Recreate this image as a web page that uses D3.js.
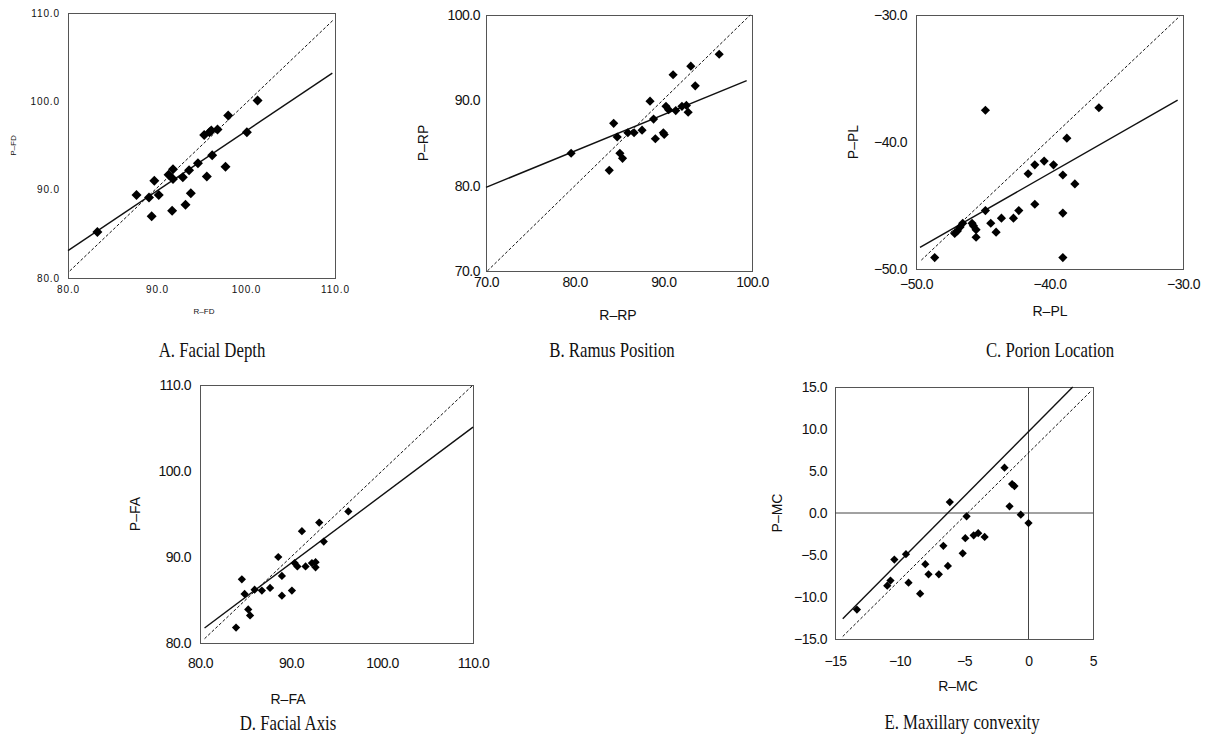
<!DOCTYPE html>
<html lang="en">
<head>
<meta charset="UTF-8">
<title>Regression plots</title>
<script src="https://cdn.jsdelivr.net/npm/d3@7"></script>
<style>
    body { margin: 0; background: #fff; }
</style>
</head>
<body>
<script type="text/javascript">
    // A. Facial Depth
    var fdR = [83.3, 87.7, 89.1, 89.7, 89.4, 90.2, 91.3, 91.8, 91.8, 91.7, 92.9, 93.2, 93.6, 93.8, 94.6, 95.6, 95.3, 95.9, 96.1, 96.2, 96.8, 98.0, 97.7, 100.1, 101.3];
    var fdP = [85.2, 89.4, 89.1, 91.0, 87.0, 89.4, 91.7, 92.3, 91.2, 87.6, 91.4, 88.3, 92.2, 89.6, 93.0, 91.5, 96.2, 96.5, 96.7, 93.9, 96.8, 98.4, 92.6, 96.5, 100.1];
    var fdFit = [[80, 83.1], [109.7, 103.2]];
    var fdRef = [[80.2, 80.8], [109.8, 109.2]];
    var fdTicks = [80, 90, 100, 110];
    var fdLabels = ["80.0", "90.0", "100.0", "110.0"];

    // B. Ramus Position
    var rpR = [79.6, 83.9, 84.4, 84.8, 85.1, 85.4, 86.0, 86.7, 87.6, 88.5, 88.9, 89.1, 90.0, 90.1, 90.3, 90.6, 91.1, 91.4, 92.1, 92.6, 92.8, 93.1, 93.6, 96.3];
    var rpP = [83.8, 81.8, 87.3, 85.7, 83.8, 83.2, 86.2, 86.2, 86.5, 89.9, 87.8, 85.5, 86.2, 86.0, 89.3, 88.9, 93.0, 88.8, 89.3, 89.4, 88.6, 94.0, 91.7, 95.4];
    var rpFit = [[70, 79.8], [99.4, 92.3]];
    var rpRef = [[70.15, 70], [99.8, 100]];
    var rpTicks = [70, 80, 90, 100];
    var rpLabels = ["70.0", "80.0", "90.0", "100.0"];

    // C. Porion Location
    var plR = [-48.6, -47.1, -46.9, -46.7, -46.5, -45.8, -45.7, -45.5, -45.5, -44.8, -44.8, -44.4, -44.0, -43.6, -42.7, -42.3, -41.6, -41.1, -41.1, -40.4, -39.7, -39.0, -39.0, -39.0, -38.7, -38.1, -36.3];
    var plP = [-49.1, -47.2, -47.0, -46.7, -46.4, -46.4, -46.6, -46.9, -47.5, -37.5, -45.4, -46.4, -47.1, -46.0, -46.0, -45.4, -42.5, -41.8, -44.9, -41.5, -41.8, -42.6, -45.6, -49.1, -39.7, -43.3, -37.3];
    var plFit = [[-49.7, -48.3], [-30.4, -36.7]];
    var plRef = [[-49.6, -49.3], [-30.25, -30.1]];
    var plTicks = [-50, -40, -30];
    var plLabels = ["\u221250.0", "\u221240.0", "\u221230.0"];

    // D. Facial Axis
    var faR = [83.96, 84.6, 84.9, 85.3, 85.5, 86.0, 86.8, 87.7, 88.6, 89.0, 89.0, 90.1, 90.4, 90.7, 91.2, 91.6, 92.3, 92.7, 92.7, 93.1, 93.6, 96.3];
    var faP = [81.8, 87.4, 85.7, 83.9, 83.2, 86.2, 86.1, 86.4, 90.0, 87.8, 85.5, 86.1, 89.3, 88.9, 93.0, 88.9, 89.3, 89.4, 88.8, 94.0, 91.8, 95.3];
    var faFit = [[80.5, 81.75], [110, 105.1]];
    var faRef = [[80.5, 80.5], [110, 110]];
    var faTicks = [80, 90, 100, 110];
    var faLabels = ["80.0", "90.0", "100.0", "110.0"];

    // E. Maxillary convexity
    var mcR = [-13.3, -10.95, -10.7, -10.4, -9.5, -9.3, -8.4, -8.0, -7.75, -6.95, -6.6, -6.25, -6.1, -5.1, -4.9, -4.8, -4.25, -3.9, -3.4, -1.86, -1.47, -1.27, -1.09, -0.6, 0.0];
    var mcP = [-11.5, -8.65, -8.05, -5.55, -4.9, -8.3, -9.6, -6.1, -7.3, -7.3, -3.9, -6.3, 1.3, -4.8, -3.0, -0.4, -2.65, -2.4, -2.85, 5.4, 0.8, 3.45, 3.2, -0.2, -1.2];
    var mcFit = [[-14.4, -12.6], [3.43, 15]];
    var mcRef = [[-14.4, -14.7], [4.9, 14.6]];
    var mcXTicks = [-15, -10, -5, 0, 5];
    var mcXLabels = ["\u221215", "\u221210", "\u22125", "0", "5"];
    var mcYTicks = [-15, -10, -5, 0, 5, 10, 15];
    var mcYLabels = ["\u221215.0", "\u221210.0", "\u22125.0", "0.0", "5.0", "10.0", "15.0"];

    var width = 1208;
    var height = 749;
    var svg = d3.select("body").append("svg")
            .attr("width", width)
            .attr("height", height);

    var sans = "'Liberation Sans', Arial, sans-serif";
    var serif = "'Liberation Serif', 'Times New Roman', serif";

    var panels = [
        {box: [68, 13, 335, 278], xDom: [80, 110], yDom: [80, 110], xs: fdR, ys: fdP, fit: fdFit, ref: fdRef,
            xTicks: fdTicks, xLabels: fdLabels, yTicks: fdTicks, yLabels: fdLabels,
            xName: "R\u2013FD", yName: "P\u2013FD", title: "A. Facial Depth",
            tickFont: 10, tickSpacing: 0.9, nameFont: 8, padX: 8, padY: 8,
            xNameX: 204, xNameY: 311, yNameX: 13, titleX: 212, titleY: 350, size: 50},
        {box: [486, 15, 752, 271], xDom: [70, 100], yDom: [70, 100], xs: rpR, ys: rpP, fit: rpFit, ref: rpRef,
            xTicks: rpTicks, xLabels: rpLabels, yTicks: rpTicks, yLabels: rpLabels,
            xName: "R\u2013RP", yName: "P\u2013RP", title: "B. Ramus Position",
            tickFont: 14, tickSpacing: -0.5, nameFont: 14, padX: 6, padY: 6,
            xNameX: 618, xNameY: 315, yNameX: 423, titleX: 612, titleY: 350, size: 42},
        {box: [916, 15, 1183, 269], xDom: [-50, -30], yDom: [-50, -30], xs: plR, ys: plP, fit: plFit, ref: plRef,
            xTicks: plTicks, xLabels: plLabels, yTicks: plTicks, yLabels: plLabels,
            xName: "R\u2013PL", yName: "P\u2013PL", title: "C. Porion Location",
            tickFont: 14, tickSpacing: -0.5, nameFont: 14, padX: 10, padY: 9,
            xNameX: 1050, xNameY: 311, yNameX: 853, titleX: 1050, titleY: 350, size: 42},
        {box: [200, 385, 473, 643], xDom: [80, 110], yDom: [80, 110], xs: faR, ys: faP, fit: faFit, ref: faRef,
            xTicks: faTicks, xLabels: faLabels, yTicks: faTicks, yLabels: faLabels,
            xName: "R\u2013FA", yName: "P\u2013FA", title: "D. Facial Axis",
            tickFont: 14, tickSpacing: -0.5, nameFont: 14, padX: 15, padY: 9,
            xNameX: 288, xNameY: 699, yNameX: 135, titleX: 288, titleY: 723, size: 34},
        {box: [835, 387, 1093, 639], xDom: [-15, 5], yDom: [-15, 15], xs: mcR, ys: mcP, fit: mcFit, ref: mcRef,
            xTicks: mcXTicks, xLabels: mcXLabels, yTicks: mcYTicks, yLabels: mcYLabels,
            xName: "R\u2013MC", yName: "P\u2013MC", title: "E. Maxillary convexity",
            tickFont: 14, tickSpacing: -0.5, nameFont: 14, padX: 17, padY: 8,
            xNameX: 958, xNameY: 686, yNameX: 777, titleX: 962, titleY: 722, size: 34, zeroLines: true}
    ];

    function drawPanel(p) {
        var x = d3.scaleLinear().domain(p.xDom).range([p.box[0], p.box[2]]);
        var y = d3.scaleLinear().domain(p.yDom).range([p.box[3], p.box[1]]);
        var g = svg.append("g");

        // frame
        g.append("rect")
                .attr("x", p.box[0] + 0.5)
                .attr("y", p.box[1] + 0.5)
                .attr("width", p.box[2] - p.box[0])
                .attr("height", p.box[3] - p.box[1])
                .attr("fill", "none")
                .attr("stroke", "#555")
                .attr("stroke-width", 1);

        if (p.zeroLines) {
            g.append("line")
                    .attr("x1", x(0)).attr("x2", x(0))
                    .attr("y1", p.box[1]).attr("y2", p.box[3])
                    .attr("stroke", "#444").attr("stroke-width", 1);
            g.append("line")
                    .attr("x1", p.box[0]).attr("x2", p.box[2])
                    .attr("y1", y(0)).attr("y2", y(0))
                    .attr("stroke", "#444").attr("stroke-width", 1);
        }

        // axes
        var xAxis = d3.axisBottom(x)
                .tickValues(p.xTicks)
                .tickFormat(function (d, i) { return p.xLabels[i]; })
                .tickSize(0)
                .tickPadding(p.padX);
        var yAxis = d3.axisLeft(y)
                .tickValues(p.yTicks)
                .tickFormat(function (d, i) { return p.yLabels[i]; })
                .tickSize(0)
                .tickPadding(p.padY);
        [g.append("g").attr("transform", "translate(0," + p.box[3] + ")").call(xAxis),
            g.append("g").attr("transform", "translate(" + p.box[0] + ",0)").call(yAxis)]
                .forEach(function (a) {
                    a.select(".domain").remove();
                    a.selectAll("text")
                            .attr("fill", "#111")
                            .style("font-family", sans)
                            .style("font-size", p.tickFont + "px")
                            .style("letter-spacing", p.tickSpacing + "px");
                });

        // lines
        var line = d3.line()
                .x(function (d) { return x(d[0]); })
                .y(function (d) { return y(d[1]); });
        g.append("path")
                .attr("d", line(p.ref))
                .attr("fill", "none")
                .attr("stroke", "#111")
                .attr("stroke-width", 1)
                .attr("stroke-dasharray", "3,2");
        g.append("path")
                .attr("d", line(p.fit))
                .attr("fill", "none")
                .attr("stroke", "#111")
                .attr("stroke-width", 1.4);

        // diamonds
        g.selectAll("path.pt")
                .data(p.xs)
                .enter()
                .append("path")
                .attr("class", "pt")
                .attr("d", d3.symbol().type(d3.symbolSquare).size(p.size))
                .attr("transform", function (d, i) {
                    return "translate(" + x(d) + "," + y(p.ys[i]) + ") rotate(45)";
                })
                .attr("fill", "#000");

        // axis names
        var cy = (p.box[1] + p.box[3]) / 2;
        g.append("text")
                .attr("x", p.xNameX)
                .attr("y", p.xNameY)
                .attr("text-anchor", "middle")
                .attr("dominant-baseline", "central")
                .style("font-family", sans)
                .style("font-size", p.nameFont + "px")
                .attr("fill", "#111")
                .text(p.xName);
        g.append("text")
                .attr("transform", "translate(" + p.yNameX + "," + cy + ") rotate(-90)")
                .attr("text-anchor", "middle")
                .attr("dominant-baseline", "central")
                .style("font-family", sans)
                .style("font-size", p.nameFont + "px")
                .attr("fill", "#111")
                .text(p.yName);

        // caption
        g.append("text")
                .attr("transform", "translate(" + p.titleX + "," + p.titleY + ") scale(0.8,1)")
                .attr("text-anchor", "middle")
                .attr("dominant-baseline", "central")
                .style("font-family", serif)
                .style("font-size", "21px")
                .attr("fill", "#111")
                .text(p.title);
    }

    panels.forEach(drawPanel);
</script>
</body>
</html>
